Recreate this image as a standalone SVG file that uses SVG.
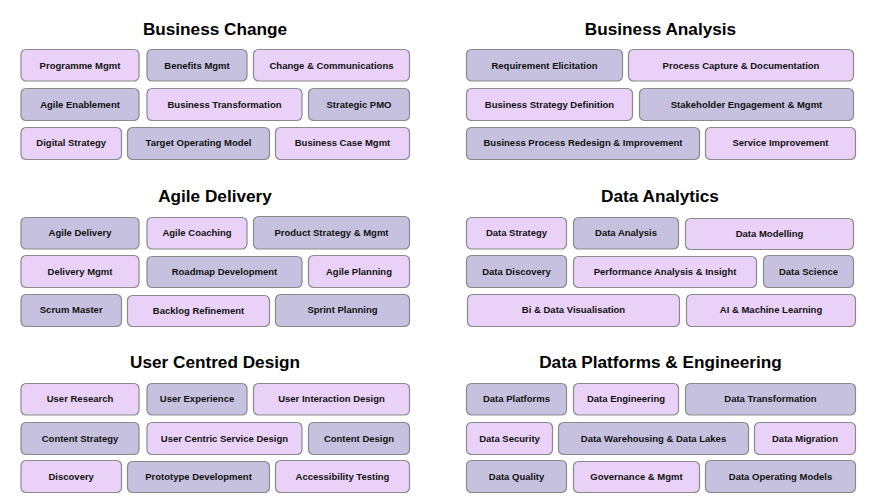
<svg xmlns="http://www.w3.org/2000/svg" width="877" height="498" viewBox="0 0 877 498">
<style>
.L{fill:#EAD1F7;stroke:#8A8A8A;stroke-width:1.2}
.D{fill:#C6C1DE;stroke:#8A8A8A;stroke-width:1.2}
.t{font-family:"Liberation Sans",Arial,sans-serif;font-weight:bold;font-size:9.5px;fill:#111;text-anchor:middle}
.h{font-family:"Liberation Sans",Arial,sans-serif;font-weight:bold;font-size:17.2px;fill:#000;text-anchor:middle}
</style>
<rect width="877" height="498" fill="#fff"/>
<g id="titles">
<text class="h" x="215" y="35">Business Change</text>
<text class="h" x="660.5" y="35">Business Analysis</text>
<text class="h" x="215" y="202">Agile Delivery</text>
<text class="h" x="660" y="202">Data Analytics</text>
<text class="h" x="215" y="367.5">User Centred Design</text>
<text class="h" x="660.5" y="367.5">Data Platforms &amp; Engineering</text>
</g>
<g id="connectors"/>
<!-- Business Change -->
<g id="bc1"><rect class="L" x="21" y="49.5" width="118" height="31.5" rx="5"/><text class="t" x="80" y="68.6">Programme Mgmt</text></g>
<g id="bc2"><rect class="D" x="147" y="49.5" width="100" height="31.5" rx="5"/><text class="t" x="197" y="68.6">Benefits Mgmt</text></g>
<g id="bc3"><rect class="L" x="253.5" y="49.5" width="156" height="31.5" rx="5"/><text class="t" x="331.5" y="68.6">Change &amp; Communications</text></g>
<g id="bc4"><rect class="D" x="21" y="88.5" width="118" height="32" rx="5"/><text class="t" x="80" y="107.9">Agile Enablement</text></g>
<g id="bc5"><rect class="L" x="147" y="88.5" width="155" height="32" rx="5"/><text class="t" x="224.5" y="107.9">Business Transformation</text></g>
<g id="bc6"><rect class="D" x="308.5" y="88.5" width="101" height="32" rx="5"/><text class="t" x="359" y="107.9">Strategic PMO</text></g>
<g id="bc7"><rect class="L" x="21" y="127.5" width="100.5" height="32" rx="5"/><text class="t" x="71.2" y="146.4">Digital Strategy</text></g>
<g id="bc8"><rect class="D" x="127.5" y="127.5" width="142" height="32" rx="5"/><text class="t" x="198.5" y="146.4">Target Operating Model</text></g>
<g id="bc9"><rect class="L" x="275.5" y="127.5" width="134" height="32" rx="5"/><text class="t" x="342.5" y="146.4">Business Case Mgmt</text></g>
<!-- Business Analysis -->
<g id="ba1"><rect class="D" x="466.5" y="49.5" width="156" height="31.5" rx="5"/><text class="t" x="544.5" y="68.6">Requirement Elicitation</text></g>
<g id="ba2"><rect class="L" x="628.5" y="49.5" width="225" height="31.5" rx="5"/><text class="t" x="741" y="68.6">Process Capture &amp; Documentation</text></g>
<g id="ba3"><rect class="L" x="466.5" y="88.5" width="166" height="32" rx="5"/><text class="t" x="549.5" y="107.9">Business Strategy Definition</text></g>
<g id="ba4"><rect class="D" x="639.5" y="88.5" width="214" height="32" rx="5"/><text class="t" x="746.5" y="107.9">Stakeholder Engagement &amp; Mgmt</text></g>
<g id="ba5"><rect class="D" x="466.5" y="127.5" width="233" height="32" rx="5"/><text class="t" x="583" y="146.4">Business Process Redesign &amp; Improvement</text></g>
<g id="ba6"><rect class="L" x="705.5" y="127.5" width="150" height="32" rx="5"/><text class="t" x="780.5" y="146.4">Service Improvement</text></g>
<!-- Agile Delivery -->
<g id="ad1"><rect class="D" x="21" y="217.5" width="118" height="31.5" rx="5"/><text class="t" x="80" y="236.2">Agile Delivery</text></g>
<g id="ad2"><rect class="L" x="147" y="217.5" width="100" height="31.5" rx="5"/><text class="t" x="197" y="236.2">Agile Coaching</text></g>
<g id="ad3"><rect class="D" x="253.5" y="216.5" width="156" height="32.5" rx="5"/><text class="t" x="331.5" y="236">Product Strategy &amp; Mgmt</text></g>
<g id="ad4"><rect class="L" x="21" y="255.5" width="118" height="32" rx="5"/><text class="t" x="80" y="274.9">Delivery Mgmt</text></g>
<g id="ad5"><rect class="D" x="147" y="256.5" width="155" height="31" rx="5"/><text class="t" x="224.5" y="274.9">Roadmap Development</text></g>
<g id="ad6"><rect class="L" x="308.5" y="255.5" width="101" height="32" rx="5"/><text class="t" x="359" y="274.9">Agile Planning</text></g>
<g id="ad7"><rect class="D" x="21" y="294.5" width="100.5" height="32" rx="5"/><text class="t" x="71.2" y="313">Scrum Master</text></g>
<g id="ad8"><rect class="L" x="127.5" y="295.5" width="142" height="31" rx="5"/><text class="t" x="198.5" y="314.2">Backlog Refinement</text></g>
<g id="ad9"><rect class="D" x="275.5" y="294.5" width="134" height="32" rx="5"/><text class="t" x="342.5" y="313">Sprint Planning</text></g>
<!-- Data Analytics -->
<g id="da1"><rect class="L" x="466.5" y="217.5" width="100" height="31.5" rx="5"/><text class="t" x="516.5" y="236">Data Strategy</text></g>
<g id="da2"><rect class="D" x="573.5" y="217.5" width="105" height="31.5" rx="5"/><text class="t" x="626" y="235.6">Data Analysis</text></g>
<g id="da3"><rect class="L" x="685.5" y="218.5" width="168" height="31" rx="5"/><text class="t" x="769.5" y="237.4">Data Modelling</text></g>
<g id="da4"><rect class="D" x="466.5" y="255.5" width="100" height="32" rx="5"/><text class="t" x="516.5" y="274.9">Data Discovery</text></g>
<g id="da5"><rect class="L" x="573.5" y="256.5" width="183" height="31" rx="5"/><text class="t" x="665" y="274.6">Performance Analysis &amp; Insight</text></g>
<g id="da6"><rect class="D" x="763.5" y="255.5" width="90" height="32" rx="5"/><text class="t" x="808.5" y="274.9">Data Science</text></g>
<g id="da7"><rect class="L" x="467.5" y="294.5" width="212" height="32" rx="5"/><text class="t" x="573.5" y="313.4">Bi &amp; Data Visualisation</text></g>
<g id="da8"><rect class="L" x="686.5" y="294.5" width="169" height="32" rx="5"/><text class="t" x="771" y="313.4">AI &amp; Machine Learning</text></g>
<!-- User Centred Design -->
<g id="ud1"><rect class="L" x="21" y="383.5" width="118" height="31.5" rx="5"/><text class="t" x="80" y="402.4">User Research</text></g>
<g id="ud2"><rect class="D" x="147" y="383.5" width="100" height="31.5" rx="5"/><text class="t" x="197" y="402.4">User Experience</text></g>
<g id="ud3"><rect class="L" x="253.5" y="383.5" width="156" height="31.5" rx="5"/><text class="t" x="331.5" y="402.4">User Interaction Design</text></g>
<g id="ud4"><rect class="D" x="21" y="422.5" width="118" height="32" rx="5"/><text class="t" x="80" y="441.6">Content Strategy</text></g>
<g id="ud5"><rect class="L" x="147" y="422.5" width="155" height="32" rx="5"/><text class="t" x="224.5" y="441.6">User Centric Service Design</text></g>
<g id="ud6"><rect class="D" x="308.5" y="422.5" width="101" height="32" rx="5"/><text class="t" x="359" y="441.6">Content Design</text></g>
<g id="ud7"><rect class="L" x="21" y="460.5" width="100.5" height="32" rx="5"/><text class="t" x="71.2" y="479.6">Discovery</text></g>
<g id="ud8"><rect class="D" x="127.5" y="461.5" width="142" height="31" rx="5"/><text class="t" x="198.5" y="479.6">Prototype Development</text></g>
<g id="ud9"><rect class="L" x="275.5" y="460.5" width="134" height="32" rx="5"/><text class="t" x="342.5" y="479.6">Accessibility Testing</text></g>
<!-- Data Platforms & Engineering -->
<g id="dp1"><rect class="D" x="466.5" y="383.5" width="100" height="31.5" rx="5"/><text class="t" x="516.5" y="402.4">Data Platforms</text></g>
<g id="dp2"><rect class="L" x="573.5" y="383.5" width="105" height="31.5" rx="5"/><text class="t" x="626" y="402.4">Data Engineering</text></g>
<g id="dp3"><rect class="D" x="685.5" y="383.5" width="170" height="31.5" rx="5"/><text class="t" x="770.5" y="402.4">Data Transformation</text></g>
<g id="dp4"><rect class="L" x="466.5" y="422.5" width="86" height="32" rx="5"/><text class="t" x="509.5" y="441.6">Data Security</text></g>
<g id="dp5"><rect class="D" x="558.5" y="422.5" width="190" height="32" rx="5"/><text class="t" x="653.5" y="441.6">Data Warehousing &amp; Data Lakes</text></g>
<g id="dp6"><rect class="L" x="754.5" y="422.5" width="101" height="32" rx="5"/><text class="t" x="805" y="441.6">Data Migration</text></g>
<g id="dp7"><rect class="D" x="466.5" y="460.5" width="100" height="32" rx="5"/><text class="t" x="516.5" y="479.6">Data Quality</text></g>
<g id="dp8"><rect class="L" x="573.5" y="461.5" width="126" height="31" rx="5"/><text class="t" x="636.5" y="479.6">Governance &amp; Mgmt</text></g>
<g id="dp9"><rect class="D" x="705.5" y="460.5" width="150" height="32" rx="5"/><text class="t" x="780.5" y="479.6">Data Operating Models</text></g>
</svg>
